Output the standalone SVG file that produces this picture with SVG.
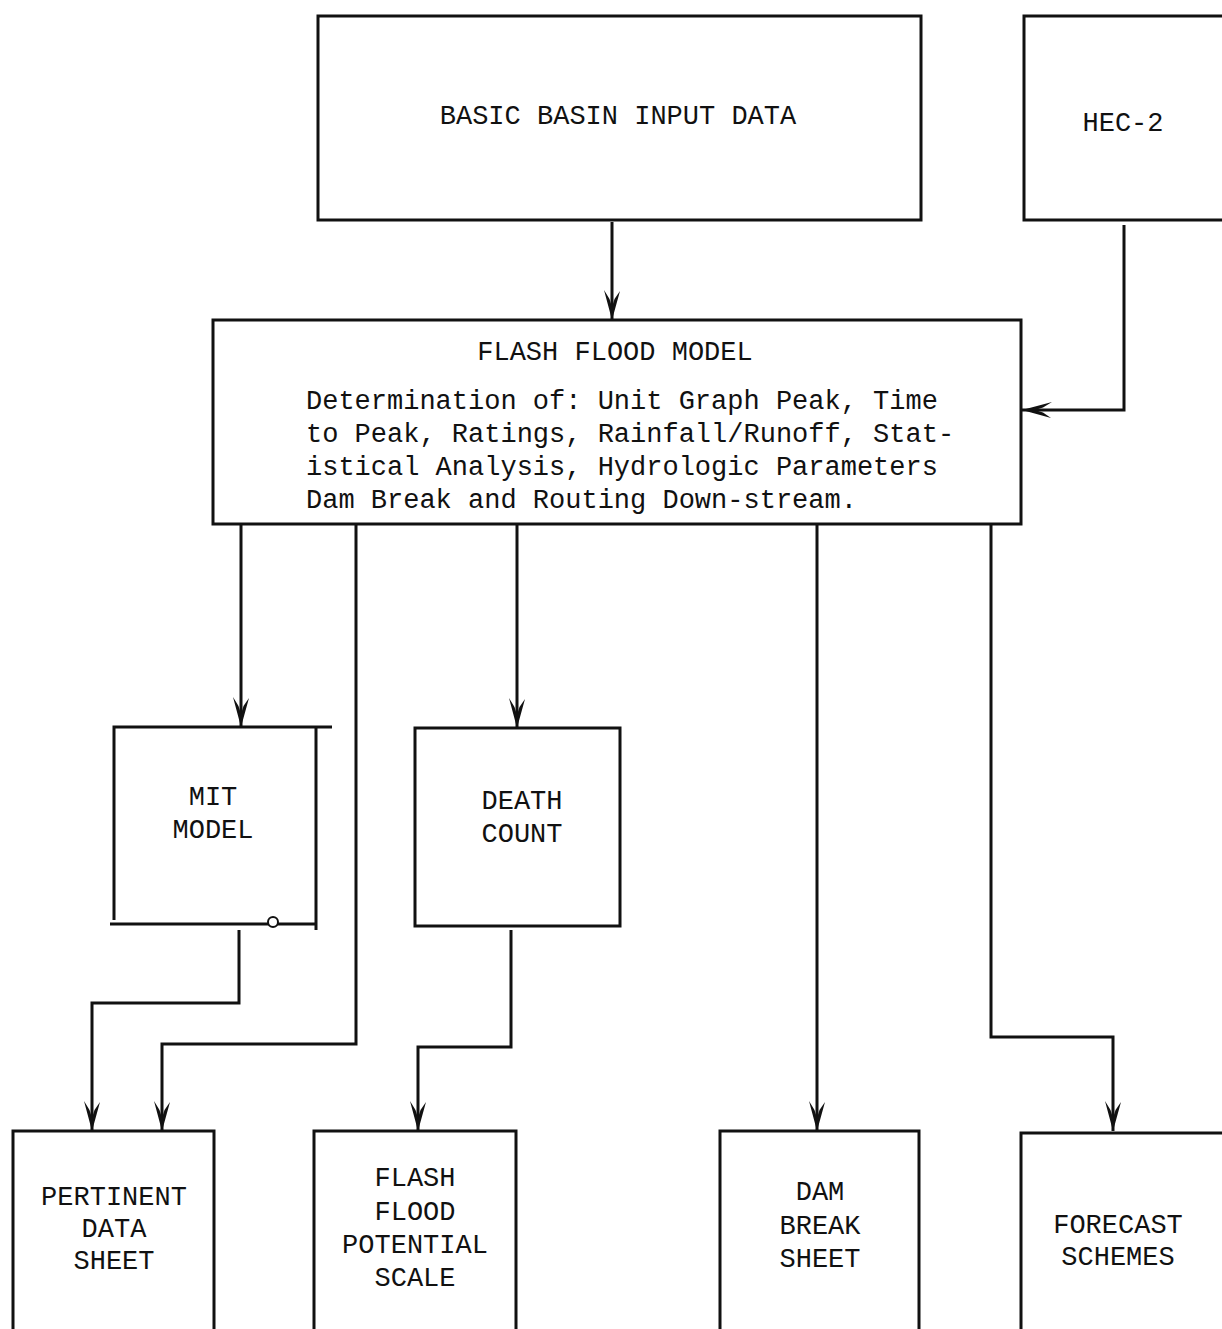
<svg xmlns="http://www.w3.org/2000/svg" width="1222" height="1329" viewBox="0 0 1222 1329">
<style>
.box{fill:none;stroke:#111;stroke-width:3}
.t{font-family:"Liberation Mono","DejaVu Sans Mono",monospace;font-size:27px;fill:#111;text-anchor:middle}
.b{font-family:"Liberation Mono","DejaVu Sans Mono",monospace;font-size:27px;fill:#111}
.c{fill:none;stroke:#111;stroke-width:3}
</style>
<defs>
<marker id="ah" viewBox="0 0 30 20" refX="30" refY="10" markerWidth="30" markerHeight="20" markerUnits="userSpaceOnUse" orient="auto">
<path d="M1 2 L30 10 L0 18 L9 12.5 L17 10 L9 7.5 Z" fill="#111"/>
</marker>
</defs>
<rect width="1222" height="1329" fill="#fff"/>
<g id="basic">
<rect class="box" x="318" y="16" width="603" height="204"/>
<text class="t" x="618" y="124">BASIC BASIN INPUT DATA</text>
</g>
<g id="hec2">
<path class="box" d="M1222 16 H1024 V220 H1222"/>
<text class="t" x="1123" y="131">HEC-2</text>
</g>
<g id="ffm">
<rect class="box" x="213" y="320" width="808" height="204"/>
<text class="t" x="615" y="360">FLASH FLOOD MODEL</text>
<text class="b" x="306" y="409">Determination of: Unit Graph Peak, Time</text>
<text class="b" x="306" y="442">to Peak, Ratings, Rainfall/Runoff, Stat-</text>
<text class="b" x="306" y="475">istical Analysis, Hydrologic Parameters</text>
<text class="b" x="306" y="508">Dam Break and Routing Down-stream.</text>
</g>
<g id="mit">
<path class="box" d="M114 920 V727 H332 M316 727 V930 M110 924 H316"/>
<circle cx="273" cy="922" r="5" fill="#fff" stroke="#111" stroke-width="2"/>
<text class="t" x="213" y="805">MIT</text>
<text class="t" x="213" y="838">MODEL</text>
</g>
<g id="death">
<rect class="box" x="415" y="728" width="205" height="198"/>
<text class="t" x="522" y="809">DEATH</text>
<text class="t" x="522" y="842">COUNT</text>
</g>
<g id="pertinent">
<path class="box" d="M13 1329 V1131 H214 V1329"/>
<text class="t" x="114" y="1205">PERTINENT</text>
<text class="t" x="114" y="1237">DATA</text>
<text class="t" x="114" y="1269">SHEET</text>
</g>
<g id="ffps">
<path class="box" d="M314 1329 V1131 H516 V1329"/>
<text class="t" x="415" y="1186">FLASH</text>
<text class="t" x="415" y="1220">FLOOD</text>
<text class="t" x="415" y="1253">POTENTIAL</text>
<text class="t" x="415" y="1286">SCALE</text>
</g>
<g id="dam">
<path class="box" d="M720 1329 V1131 H919 V1329"/>
<text class="t" x="820" y="1200">DAM</text>
<text class="t" x="820" y="1234">BREAK</text>
<text class="t" x="820" y="1267">SHEET</text>
</g>
<g id="forecast">
<path class="box" d="M1021 1329 V1133 H1222"/>
<text class="t" x="1118" y="1233">FORECAST</text>
<text class="t" x="1118" y="1265">SCHEMES</text>
</g>
<g id="connectors">
<path class="c" d="M612 222 V320" marker-end="url(#ah)"/>
<path class="c" d="M1124 225 V410 H1022" marker-end="url(#ah)"/>
<path class="c" d="M241 524 V727" marker-end="url(#ah)"/>
<path class="c" d="M356 524 V1044 H162 V1131" marker-end="url(#ah)"/>
<path class="c" d="M239 930 V1003 H92 V1131" marker-end="url(#ah)"/>
<path class="c" d="M517 524 V728" marker-end="url(#ah)"/>
<path class="c" d="M511 930 V1047 H418 V1131" marker-end="url(#ah)"/>
<path class="c" d="M817 524 V1131" marker-end="url(#ah)"/>
<path class="c" d="M991 524 V1037 H1113 V1131" marker-end="url(#ah)"/>
</g>
</svg>
